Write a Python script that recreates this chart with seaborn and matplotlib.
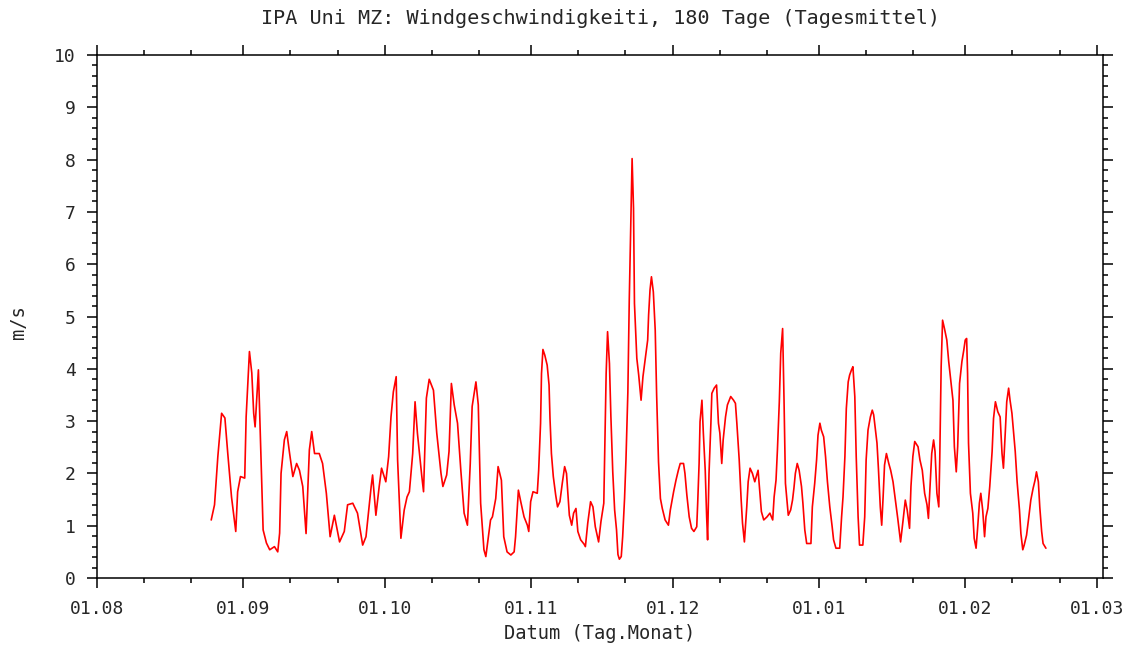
import pandas as pd
import seaborn as sns
import matplotlib.pyplot as plt
import matplotlib.dates as mdates

# Tage seit 01.08. und Tagesmittel der Windgeschwindigkeit (m/s)
tage = [
    24.2, 24.9, 25.6, 26.4, 27.1, 27.7, 28.5, 29.4, 29.8, 30.4,
    31.3, 31.6, 32.3, 32.8, 33.2, 33.5, 34.2, 34.7, 35.2, 35.9,
    36.6, 37.6, 38.3, 38.7, 39.0, 39.7, 40.2, 40.8, 41.5, 42.3,
    42.9, 43.6, 44.3, 45.0, 45.5, 46.1, 47.1, 47.8, 48.6, 49.4,
    50.3, 51.4, 52.4, 53.1, 54.2, 55.2, 56.3, 57.0, 58.1, 58.4,
    59.1, 59.8, 60.3, 61.2, 61.8, 62.3, 62.8, 63.4, 63.7, 64.4,
    65.1, 65.7, 66.2, 66.9, 67.4, 67.9, 68.8, 69.2, 69.8, 70.4,
    71.3, 72.0, 72.9, 73.3, 74.1, 74.6, 75.1, 75.7, 76.4, 77.1,
    77.8, 78.5, 79.1, 79.5, 80.3, 80.8, 81.3, 82.0, 82.4, 82.9,
    83.4, 83.8, 84.5, 85.0, 85.7, 86.2, 86.9, 87.7, 88.4, 88.7,
    89.3, 89.8, 90.5, 91.2, 91.5, 91.9, 92.4, 93.3, 93.6, 94.0,
    94.2, 94.5, 94.9, 95.4, 95.8, 96.0, 96.3, 96.7, 97.2, 97.6,
    98.1, 98.6, 99.1, 99.5, 99.8, 100.1, 100.6, 101.0, 101.5, 101.9,
    102.5, 103.2, 103.5, 104.0, 104.6, 105.1, 105.6, 106.3, 106.8, 107.4,
    107.6, 107.9, 108.2, 108.6, 108.9, 109.3, 109.7, 110.1, 110.4, 110.7,
    111.1, 111.4, 111.8, 112.1, 112.5, 112.8, 113.2, 113.4, 113.7, 113.9,
    114.4, 114.8, 115.3, 115.7, 116.2, 116.7, 116.9, 117.2, 117.5, 117.9,
    118.3, 118.6, 119.0, 119.4, 119.8, 120.4, 121.1, 121.5, 122.2, 122.7,
    123.2, 123.6, 124.3, 124.6, 125.0, 125.5, 126.0, 126.5, 127.1, 127.3,
    127.6, 127.8, 128.2, 128.5, 128.9, 129.2, 129.4, 129.7, 130.1, 130.3,
    130.8, 131.3, 131.7, 132.0, 132.4, 132.7, 133.2, 133.6, 134.3, 134.9,
    135.3, 135.6, 136.1, 136.5, 136.8, 137.2, 137.7, 138.0, 138.4, 138.9,
    139.4, 140.1, 140.5, 140.8, 141.3, 142.0, 142.6, 143.2, 143.5, 143.9,
    144.2, 144.6, 144.9, 145.3, 145.6, 145.9, 146.5, 147.0, 147.4, 147.7,
    148.0, 148.4, 148.8, 149.3, 149.6, 150.0, 150.4, 151.3, 151.6, 152.1,
    152.5, 152.8, 153.2, 153.5, 154.0, 154.4, 154.8, 155.3, 155.8, 156.1,
    156.6, 157.4, 157.8, 158.1, 158.5, 158.8, 159.2, 159.5, 159.9, 160.2,
    160.6, 160.9, 161.3, 161.6, 162.3, 162.7, 163.0, 163.4, 163.9, 164.3,
    164.6, 164.9, 165.3, 165.6, 166.0, 166.3, 166.6, 166.9, 167.3, 167.8,
    168.2, 168.7, 169.2, 169.7, 170.3, 170.8, 171.3, 171.7, 172.2, 172.5,
    172.9, 173.3, 174.0, 174.4, 174.9, 175.4, 175.9, 176.2, 176.6, 176.9,
    177.3, 177.6, 178.0, 178.4, 178.6, 178.9, 179.2, 179.6, 180.1, 180.5,
    181.0, 181.4, 181.7, 182.1, 182.4, 182.8, 183.3, 183.7, 184.0, 184.3,
    184.5, 184.7, 185.1, 185.6, 185.9, 186.3, 186.6, 187.0, 187.3, 187.7,
    188.1, 188.4, 188.8, 189.2, 189.7, 190.0, 190.4, 190.9, 191.4, 191.8,
    192.1, 192.5, 192.8, 193.2, 193.5, 193.9, 194.2, 194.6, 195.0, 195.5,
    195.8, 196.2, 196.5, 197.0, 197.4, 197.9, 198.4, 198.8, 199.1, 199.5,
    199.8, 200.2, 200.5, 201.1,
]

werte = [
    1.11, 1.40, 2.32, 3.15, 3.06, 2.39, 1.55, 0.89, 1.65, 1.94,
    1.91, 3.08, 4.33, 3.92, 3.15, 2.89, 3.98, 2.45, 0.92, 0.67,
    0.54, 0.60, 0.50, 0.86, 2.00, 2.64, 2.80, 2.39, 1.94, 2.19,
    2.06, 1.75, 0.85, 2.45, 2.80, 2.38, 2.38, 2.19, 1.62, 0.79,
    1.20, 0.69, 0.89, 1.40, 1.43, 1.24, 0.63, 0.79, 1.75, 1.97,
    1.20, 1.75, 2.10, 1.84, 2.32, 3.08, 3.56, 3.85, 2.26, 0.76,
    1.30, 1.55, 1.65, 2.38, 3.37, 2.77, 1.97, 1.65, 3.44, 3.80,
    3.59, 2.77, 2.00, 1.75, 1.97, 2.42, 3.72, 3.31, 2.96, 2.06,
    1.24, 1.01, 2.19, 3.28, 3.75, 3.31, 1.43, 0.54, 0.41, 0.76,
    1.11, 1.17, 1.52, 2.13, 1.87, 0.79, 0.50, 0.44, 0.50, 0.79,
    1.68, 1.46, 1.17, 1.01, 0.89, 1.46, 1.65, 1.62, 2.06, 2.96,
    3.91, 4.37, 4.26, 4.07, 3.69, 3.05, 2.38, 1.94, 1.59, 1.36,
    1.46, 1.81, 2.13, 2.00, 1.59, 1.20, 1.01, 1.24, 1.33, 0.89,
    0.73, 0.65, 0.60, 1.05, 1.46, 1.36, 0.98, 0.69, 1.08, 1.43,
    2.38, 3.91, 4.71, 4.10, 3.10, 2.03, 1.30, 0.92, 0.45, 0.36,
    0.41, 0.79, 1.52, 2.26, 3.55, 5.32, 7.10, 8.02, 7.07, 5.25,
    4.20, 3.88, 3.40, 3.85, 4.20, 4.55, 5.03, 5.51, 5.76, 5.47,
    4.74, 3.50, 2.22, 1.52, 1.33, 1.11, 1.01, 1.30, 1.65, 1.87,
    2.06, 2.19, 2.19, 2.00, 1.59, 1.17, 0.95, 0.89, 0.98, 1.43,
    2.19, 2.99, 3.40, 2.77, 2.06, 1.17, 0.73, 2.00, 2.96, 3.53,
    3.63, 3.69, 2.96, 2.77, 2.19, 2.64, 3.08, 3.31, 3.47, 3.40,
    3.34, 2.96, 2.26, 1.52, 1.05, 0.69, 1.36, 1.84, 2.10, 2.00,
    1.84, 2.06, 1.62, 1.27, 1.11, 1.17, 1.24, 1.11, 1.55, 1.87,
    2.45, 3.37, 4.30, 4.77, 3.40, 1.81, 1.20, 1.30, 1.49, 1.72,
    2.00, 2.19, 2.06, 1.75, 1.43, 0.92, 0.66, 0.66, 1.36, 1.81,
    2.26, 2.73, 2.96, 2.83, 2.70, 2.32, 1.84, 1.36, 0.98, 0.73,
    0.57, 0.57, 1.17, 1.55, 2.32, 3.24, 3.75, 3.88, 3.98, 4.04,
    3.47, 2.32, 1.17, 0.63, 0.63, 1.17, 2.26, 2.83, 3.08, 3.21,
    3.12, 2.89, 2.58, 2.10, 1.36, 1.01, 1.55, 2.16, 2.38, 2.19,
    2.06, 1.84, 1.49, 1.14, 0.69, 1.08, 1.49, 1.30, 0.95, 1.75,
    2.32, 2.61, 2.51, 2.26, 2.06, 1.62, 1.40, 1.14, 1.87, 2.38,
    2.64, 2.42, 1.62, 1.36, 2.26, 4.04, 4.93, 4.77, 4.55, 4.14,
    3.72, 3.40, 2.51, 2.03, 2.51, 3.72, 4.14, 4.36, 4.55, 4.58,
    3.91, 2.58, 1.62, 1.24, 0.76, 0.57, 0.92, 1.43, 1.62, 1.30,
    0.79, 1.17, 1.33, 1.75, 2.42, 3.05, 3.37, 3.18, 3.08, 2.38,
    2.10, 2.80, 3.37, 3.63, 3.40, 3.15, 2.83, 2.42, 1.84, 1.30,
    0.85, 0.54, 0.63, 0.82, 1.11, 1.49, 1.72, 1.87, 2.03, 1.84,
    1.36, 0.89, 0.66, 0.57,
]

start = pd.Timestamp("2010-08-01")
ende = pd.Timestamp("2011-03-01")

df = pd.DataFrame({
    "datum": start + pd.to_timedelta(tage, unit="D"),
    "ms": werte,
})

sns.set_style("ticks")
plt.rcParams["font.family"] = ["DejaVu Sans Mono", "DejaVu Sans"]

fig = plt.figure(figsize=(11.27, 6.48), dpi=100)
ax = fig.add_axes([0.0861, 0.108, 0.8926, 0.8071])

sns.lineplot(data=df, x="datum", y="ms", color="#ff0000", linewidth=1.2,
             estimator=None, ax=ax)

ax.set_xlim(start, ende + pd.Timedelta(days=1.2))
ax.set_ylim(0, 10)

ax.xaxis.set_major_locator(mdates.MonthLocator())
ax.xaxis.set_major_formatter(mdates.DateFormatter("%d.%m"))
ax.xaxis.set_minor_locator(mdates.DayLocator(bymonthday=[11, 21]))
ax.yaxis.set_major_locator(plt.MultipleLocator(1))
ax.yaxis.set_minor_locator(plt.MultipleLocator(0.2))

for s in ax.spines.values():
    s.set_visible(True)
    s.set_linewidth(1.1)
    s.set_color("black")

ax.tick_params(which="both", direction="out", top=True, right=True,
               labeltop=False, labelright=False, width=1.1, color="black")
ax.tick_params(which="major", length=7.5, pad=8, labelsize=13)
ax.tick_params(which="minor", length=3.5)

ax.set_xlabel("Datum (Tag.Monat)", fontsize=13.5, va="center")
ax.set_ylabel("m/s", fontsize=13.5, va="center")
ax.xaxis.set_label_coords(0.5, -0.107)
ax.yaxis.set_label_coords(-0.0785, 0.49)
ax.text(0.5, 1.0707, "IPA Uni MZ: Windgeschwindigkeiti, 180 Tage (Tagesmittel)",
        transform=ax.transAxes, ha="center", va="center", fontsize=14.5)

fig.savefig("out.png", dpi=100)
